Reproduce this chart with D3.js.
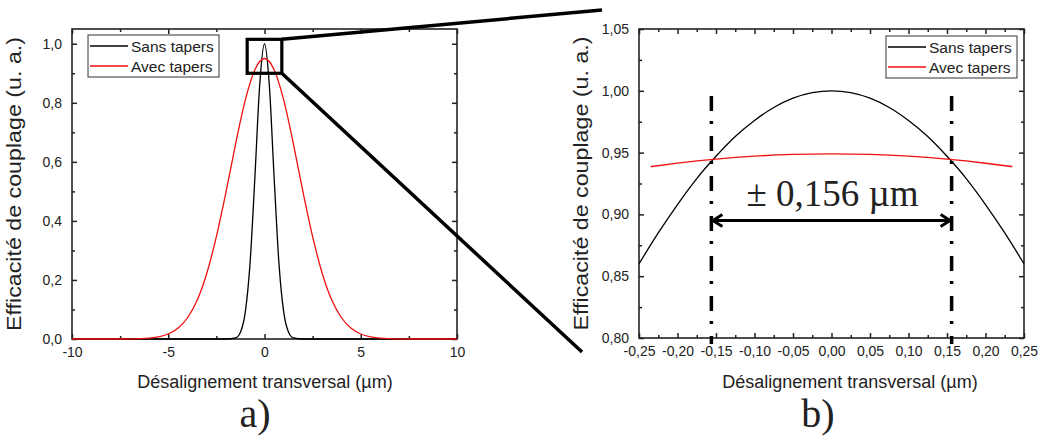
<!DOCTYPE html>
<html><head><meta charset="utf-8">
<script src="https://cdn.jsdelivr.net/npm/d3@7"></script>
<style>
body{margin:0;background:#fff}
svg text{font-family:"Liberation Sans",Arial,sans-serif;fill:#222}
</style>
</head><body><script>
// ---------- data ----------
// panel a)
const sansX_a = [-10,-2,-1.5,-1.25,-1,-0.75,-0.5,-0.25,0,0.25,0.5,0.75,1,1.25,1.5,2,10];
const sansY_a = [0,0,0.004,0.023,0.09,0.257,0.547,0.86,1,0.86,0.547,0.257,0.09,0.023,0.004,0,0];
const avecX_a = [-10,-8,-7,-6,-5.5,-5,-4.5,-4,-3.5,-3,-2.5,-2,-1.5,-1,-0.5,0,0.5,1,1.5,2,2.5,3,3.5,4,4.5,5,5.5,6,7,8,10];
const avecY_a = [0,0,0.0004,0.003,0.007,0.017,0.036,0.072,0.131,0.222,0.347,0.498,0.661,0.809,0.912,0.95,0.912,0.809,0.661,0.498,0.347,0.222,0.131,0.072,0.036,0.017,0.007,0.003,0.0004,0,0];
// panel b)
const sansX_b = [-0.25,-0.225,-0.2,-0.175,-0.15,-0.125,-0.1,-0.075,-0.05,-0.025,0,0.025,0.05,0.075,0.1,0.125,0.15,0.175,0.2,0.225,0.25];
const sansY_b = [0.86,0.885,0.908,0.929,0.947,0.963,0.976,0.9865,0.994,0.9985,1,0.9985,0.994,0.9865,0.976,0.963,0.947,0.929,0.908,0.885,0.86];
const avecX_b = [-0.235,-0.2,-0.15,-0.1,-0.05,0,0.05,0.1,0.15,0.2,0.235];
const avecY_b = [0.9386,0.9414,0.9447,0.9471,0.9485,0.949,0.9485,0.9471,0.9447,0.9414,0.9386];
const tolerance = 0.156;

// ticks
const xTicksA = [-10,-5,0,5,10];
const xLabelsA = ["-10","-5","0","5","10"];
const xMinorA = [-7.5,-2.5,2.5,7.5];
const yTicksA = [0,0.2,0.4,0.6,0.8,1.0];
const yLabelsA = ["0,0","0,2","0,4","0,6","0,8","1,0"];
const yMinorA = [0.1,0.3,0.5,0.7,0.9];
const xTicksB = [-0.25,-0.2,-0.15,-0.1,-0.05,0,0.05,0.1,0.15,0.2,0.25];
const xLabelsB = ["-0,25","-0,20","-0,15","-0,10","-0,05","0,00","0,05","0,10","0,15","0,20","0,25"];
const xMinorB = [-0.225,-0.175,-0.125,-0.075,-0.025,0.025,0.075,0.125,0.175,0.225];
const yTicksB = [0.8,0.85,0.9,0.95,1.0,1.05];
const yLabelsB = ["0,80","0,85","0,90","0,95","1,00","1,05"];
const yMinorB = [0.825,0.875,0.925,0.975,1.025];

const seriesNames = ["Sans tapers","Avec tapers"];
const seriesColors = ["#000000","#f01010"];
const yTitle = "Efficacité de couplage (u. a.)";
const xTitle = "Désalignement transversal (µm)";

// ---------- drawing ----------
const W = 1040, H = 436;
const svg = d3.select("body").append("svg").attr("width", W).attr("height", H);

const xA = d3.scaleLinear().domain([-10,10]).range([72,457]);
const yA = d3.scaleLinear().domain([0,1.05]).range([339,29]);
const xB = d3.scaleLinear().domain([-0.25,0.25]).range([639,1024]);
const yB = d3.scaleLinear().domain([0.8,1.05]).range([338,29]);

function frame(x, y, xT, xL, xM, yT, yL, yM, titleX, titleLen) {
  const g = svg.append("g");
  const [x0,x1] = x.range(), [y0,y1] = y.range();
  const lab = (arr, vals) => d => arr[vals.indexOf(d)];
  g.append("g").attr("transform",`translate(0,${y0})`)
    .call(d3.axisBottom(x).tickValues(xT).tickSize(-5).tickPadding(8).tickFormat(lab(xL,xT)));
  g.append("g").attr("transform",`translate(0,${y0})`)
    .call(d3.axisBottom(x).tickValues(xM).tickSize(-3).tickFormat(""));
  g.append("g").attr("transform",`translate(0,${y1})`)
    .call(d3.axisTop(x).tickValues(xT).tickSize(-5).tickFormat(""));
  g.append("g").attr("transform",`translate(0,${y1})`)
    .call(d3.axisTop(x).tickValues(xM).tickSize(-3).tickFormat(""));
  g.append("g").attr("transform",`translate(${x0},0)`)
    .call(d3.axisLeft(y).tickValues(yT).tickSize(-5).tickPadding(10).tickFormat(lab(yL,yT)));
  g.append("g").attr("transform",`translate(${x0},0)`)
    .call(d3.axisLeft(y).tickValues(yM).tickSize(-3).tickFormat(""));
  g.append("g").attr("transform",`translate(${x1},0)`)
    .call(d3.axisRight(y).tickValues(yT).tickSize(-5).tickFormat(""));
  g.append("g").attr("transform",`translate(${x1},0)`)
    .call(d3.axisRight(y).tickValues(yM).tickSize(-3).tickFormat(""));
  g.selectAll(".domain").remove();
  g.selectAll(".tick line").attr("stroke","#222").attr("stroke-width",1.5);
  g.selectAll(".tick text").style("font-size","14px").attr("fill","#222");
  g.append("rect").attr("x",x0).attr("y",y1).attr("width",x1-x0).attr("height",y0-y1)
    .attr("fill","none").attr("stroke","#222").attr("stroke-width",1.6);
  svg.append("text").attr("x", titleX).attr("y", 388).attr("text-anchor","middle")
    .style("font-size","18px").text(xTitle);
  svg.append("text").attr("transform",`translate(${x0-51},${(y0+y1)/2}) rotate(-90)`)
    .attr("text-anchor","middle").attr("textLength", titleLen).attr("lengthAdjust","spacingAndGlyphs")
    .style("font-size","20px").text(yTitle);
}

frame(xA, yA, xTicksA, xLabelsA, xMinorA, yTicksA, yLabelsA, yMinorA, 265, 294);
frame(xB, yB, xTicksB, xLabelsB, xMinorB, yTicksB, yLabelsB, yMinorB, 850, 294);

function curve(x, y, xs, ys, color, w) {
  const pts = xs.map((v,i)=>[v, ys[i]]);
  svg.append("path").datum(pts)
    .attr("d", d3.line().x(d=>x(d[0])).y(d=>y(d[1])).curve(d3.curveMonotoneX))
    .attr("fill","none").attr("stroke",color).attr("stroke-width",w);
}
curve(xA, yA, sansX_a, sansY_a, seriesColors[0], 1.3);
curve(xA, yA, avecX_a, avecY_a, seriesColors[1], 1.3);
curve(xB, yB, sansX_b, sansY_b, seriesColors[0], 1.3);
curve(xB, yB, avecX_b, avecY_b, seriesColors[1], 1.3);

function legend(lx, ly) {
  const g = svg.append("g");
  g.append("rect").attr("x",lx).attr("y",ly).attr("width",131).attr("height",42)
    .attr("fill","#fff").attr("stroke","#333").attr("stroke-width",1);
  seriesNames.forEach((n,i)=>{
    const yy = ly + 11 + i*20;
    g.append("line").attr("x1",lx+2).attr("x2",lx+40).attr("y1",yy).attr("y2",yy)
      .attr("stroke",seriesColors[i]).attr("stroke-width",1.3);
    g.append("text").attr("x",lx+43).attr("y",yy+5.5).style("font-size","15.5px").text(n);
  });
}
legend(88, 35);
legend(886, 36);

// zoom box on panel a) and connecting lines
const bx0 = xA(-0.9), bx1 = xA(0.9), by0 = yA(1.015), by1 = yA(0.9);
svg.append("rect").attr("x",bx0).attr("y",by0).attr("width",bx1-bx0).attr("height",by1-by0)
  .attr("fill","none").attr("stroke","#000").attr("stroke-width",3.2);
svg.append("line").attr("x1",bx1).attr("y1",by0).attr("x2",xB(-0.25)-37).attr("y2",yB(1.05)-19)
  .attr("stroke","#000").attr("stroke-width",3.5);
svg.append("line").attr("x1",bx1).attr("y1",by1).attr("x2",xB(-0.25)-57).attr("y2",yB(0.8)+14)
  .attr("stroke","#000").attr("stroke-width",3.5);

// tolerance markers on panel b)
[-tolerance, tolerance].forEach(t=>{
  svg.append("line").attr("x1",xB(t)).attr("x2",xB(t)).attr("y1",yB(0.9958)).attr("y2",yB(0.8)+6)
    .attr("stroke","#000").attr("stroke-width",3.5).attr("stroke-dasharray","15,10,3,12");
});
const ay = yB(0.895);
const ax0 = xB(-tolerance), ax1 = xB(tolerance);
svg.append("line").attr("x1",ax0+1).attr("x2",ax1-1).attr("y1",ay).attr("y2",ay)
  .attr("stroke","#000").attr("stroke-width",3);
svg.append("path").attr("d",`M${ax0+11},${ay-6}L${ax0+1.5},${ay}L${ax0+11},${ay+6}`)
  .attr("fill","none").attr("stroke","#000").attr("stroke-width",3);
svg.append("path").attr("d",`M${ax1-11},${ay-6}L${ax1-1.5},${ay}L${ax1-11},${ay+6}`)
  .attr("fill","none").attr("stroke","#000").attr("stroke-width",3);
svg.append("text").attr("x",xB(0)+1).attr("y",ay-15).attr("text-anchor","middle")
  .style("font-family","'Liberation Serif','Times New Roman',serif").style("font-size","37px")
  .attr("fill","#000").text("± 0,156 µm");

// panel labels
svg.append("text").attr("x",255).attr("y",427).attr("text-anchor","middle")
  .style("font-family","'Liberation Serif','Times New Roman',serif").style("font-size","40px").attr("fill","#000").text("a)");
svg.append("text").attr("x",818).attr("y",427).attr("text-anchor","middle")
  .style("font-family","'Liberation Serif','Times New Roman',serif").style("font-size","40px").attr("fill","#000").text("b)");
</script></body></html>
